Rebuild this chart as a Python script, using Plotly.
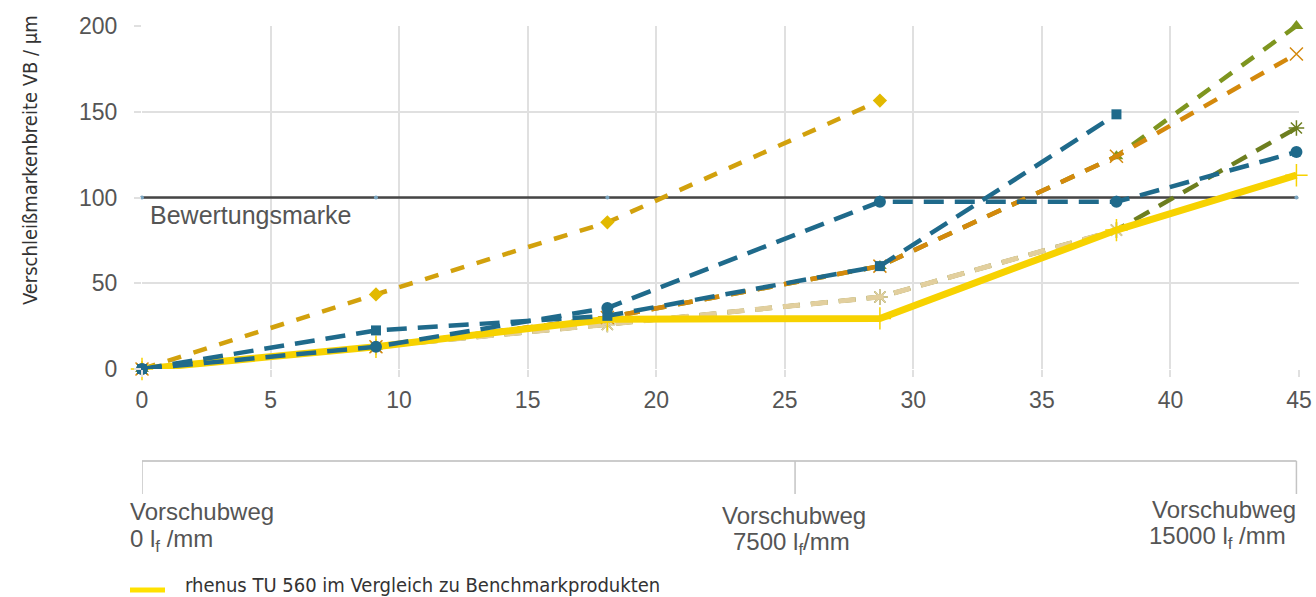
import plotly.graph_objects as go

# ---- data ----
x_pos = [0, 9.1, 18.1, 28.7, 37.9, 44.9]
threshold = [100, 100, 100, 100, 100, 100]
gold_diamond = [0, 43.5, 85.5, 156.5]
blue_square = [0, 22.5, 31, 60, 148.5]
blue_circle = [0, 13, 35.6, 97.5, 97.5, 126.5]
orange_x = [0, 13, 30, 60, 124, 183.7]
olive_triangle = [0, 13, 30, 60, 124, 200]
darkolive_star = [0, 13, 26, 42, 81, 140.5]
tan_star = [0, 13, 26, 42, 81]
rhenus = [0, 13, 29, 29.5, 81, 113]

y_ticks = [0, 50, 100, 150, 200]
x_ticks = [0, 5, 10, 15, 20, 25, 30, 35, 40, 45]
threshold_label = "Bewertungsmarke"
y_title = "Verschleißmarkenbreite VB / µm"
legend_text = "rhenus TU 560 im Vergleich zu Benchmarkprodukten"
bracket_x = [0, 25.4, 44.9]

fig = go.Figure()

def add(y, color, dash, width, symbol, msize, mcolor=None, mline=0, mlinecolor=None):
    xs = x_pos[:len(y)]
    fig.add_trace(go.Scatter(
        x=xs, y=y, mode="lines+markers", cliponaxis=False,
        line=dict(color=color, width=width, dash=dash),
        marker=dict(symbol=symbol, size=msize, color=mcolor or color,
                    line=dict(width=mline, color=mlinecolor or (mcolor or color))),
        showlegend=False, hoverinfo="x+y"))

dash_a = "17px,11px"
dash_b = "15px,12px"
dash_blue = "20px,11px"

# threshold line
add(threshold, "#464646", "solid", 2.5, "circle", 4, mcolor="#7aa5c0")
# benchmark series
add(darkolive_star, "#6d7e1f", dash_a, 4.5, "asterisk-open", 13, mline=1.5, mlinecolor="#c9b783")
add(tan_star, "#e2cf9e", dash_a, 5, "asterisk-open", 13, mline=1.5, mlinecolor="#e0c98f")
add(olive_triangle, "#7e951f", dash_b, 4.5, "triangle-up", 12)
add(orange_x, "#d4890c", dash_b, 4.5, "x-thin-open", 13, mline=1.5, mlinecolor="#d9962e")
add(gold_diamond, "#d2a10d", "14px,13px", 4.5, "diamond", 11, mcolor="#e2b900")
# rhenus
add(rhenus, "#f7d200", "solid", 7, "cross-thin-open", 16, mline=1.5, mlinecolor="#fbe58a")
add(blue_square, "#1f6a8b", dash_blue, 4.5, "square", 10)
add(blue_circle, "#1f6a8b", dash_blue, 4.5, "circle", 12)

grid = "#e0e0e0"
font_main = "Liberation Sans, Arial, sans-serif"
font_cond = "DejaVu Sans Condensed, Liberation Sans Narrow, sans-serif"

fig.update_xaxes(range=[0, 45], tickvals=x_ticks, showgrid=True, gridcolor=grid, gridwidth=2,
                 zeroline=False, showline=False, ticks="outside", ticklen=7, tickcolor=grid,
                 tickwidth=2, ticklabelstandoff=3, automargin=False,
                 tickfont=dict(family=font_main, size=23, color="#555555"))
fig.update_yaxes(range=[0, 200], tickvals=y_ticks, showgrid=True, gridcolor=grid, gridwidth=2,
                 zeroline=False, showline=False, ticks="outside", ticklen=7, tickcolor=grid,
                 tickwidth=2, ticklabelstandoff=12, automargin=False,
                 tickfont=dict(family=font_main, size=23, color="#555555"))

X0, X1 = 142.0, 1299.0  # plot-area pixel edges

def px(p):
    return (p - X0) / (X1 - X0)

def py(p):
    return (369 - p) / 343.0

ann = []
ann.append(dict(x=px(148), y=py(215), text=threshold_label,
                xanchor="left", font=dict(family=font_main, size=25, color="#555555")))
ann.append(dict(x=px(30), y=py(160), text=y_title, textangle=-90, xanchor="center",
                font=dict(family=font_cond, size=20, color="#333333")))

lab_font = dict(family=font_main, size=24, color="#555555")
sub = "l<sub>f</sub>"
ann += [
    dict(x=px(128), y=py(511), text="Vorschubweg", xanchor="left", font=lab_font),
    dict(x=px(128), y=py(540), text="0 " + sub + " /mm", xanchor="left", font=lab_font),
    dict(x=px(794), y=py(515), text="Vorschubweg", xanchor="center", font=lab_font),
    dict(x=px(791), y=py(543), text="7500 " + sub + "/mm", xanchor="center", font=lab_font),
    dict(x=px(1298), y=py(509), text="Vorschubweg", xanchor="right", font=lab_font),
    dict(x=px(1217), y=py(537), text="15000 " + sub + " /mm", xanchor="center", font=lab_font),
]
ann.append(dict(x=px(183), y=py(585), text=legend_text, xanchor="left",
                font=dict(family=font_cond, size=20, color="#333333")))
for a in ann:
    a.update(xref="paper", yref="paper", showarrow=False, yanchor="middle")

shapes = [
    dict(type="line", xref="x", yref="paper", x0=bracket_x[0], x1=bracket_x[2],
         y0=py(461), y1=py(461), line=dict(color="#bbbbbb", width=1.5)),
]
for bx in bracket_x:
    shapes.append(dict(type="line", xref="x", yref="paper", x0=bx, x1=bx,
                       y0=py(461), y1=py(494), line=dict(color="#c4c4c4", width=1.5)))
shapes.append(dict(type="line", xref="paper", yref="paper", x0=px(130), x1=px(165),
                   y0=py(590), y1=py(590), line=dict(color="#ffe100", width=5)))

fig.update_layout(width=1316, height=597,
                  margin=dict(l=142, r=17, t=26, b=228, autoexpand=False),
                  paper_bgcolor="white", plot_bgcolor="white",
                  annotations=ann, shapes=shapes, showlegend=False)

fig.write_html("out.html", config={"displayModeBar": False},
               post_script="document.body.style.margin='0';document.body.style.overflow='hidden';")
